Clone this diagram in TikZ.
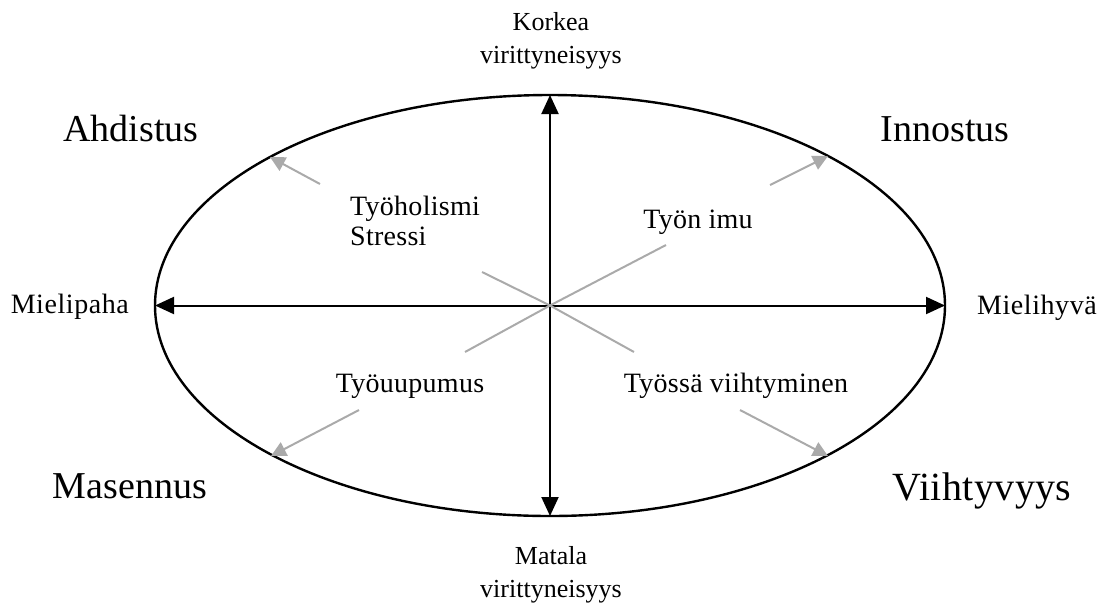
\documentclass[tikz,border=0pt]{standalone}
\usepackage{fontspec}
\setmainfont{Liberation Serif}
\usetikzlibrary{arrows.meta}
\definecolor{arrgray}{RGB}{170,170,170}
\tikzset{
  axisline/.style={line width=2pt, black, {Triangle[length=19pt,width=17pt]}-{Triangle[length=19pt,width=17pt]}},
  grayline/.style={line width=2pt, arrgray},
  grayarrow/.style={line width=2pt, arrgray, -{Triangle[length=15pt,width=15pt]}},
  vertlabel/.style={inner sep=0pt, font=\fontsize{26}{33}\selectfont, align=center},
  sidelabel/.style={inner sep=0pt, font=\fontsize{28}{33}\selectfont\addfontfeatures{LetterSpace=2}},
  midlabel/.style={inner sep=0pt, font=\fontsize{28}{30}\selectfont\addfontfeatures{LetterSpace=1}, align=left},
  cornerlabel/.style={inner sep=0pt, font=\fontsize{38}{40}\selectfont},
}
\begin{document}
\begin{tikzpicture}[x=1pt,y=-1pt]
\useasboundingbox (0,0) rectangle (1108,606);
\coordinate (c) at (550,305.5);
\draw[line width=2.4pt] (c) ellipse [x radius=395pt, y radius=210.5pt];
\coordinate (top) at (550,95);
\coordinate (bot) at (550,516);
\coordinate (lft) at (155,305.5);
\coordinate (rgt) at (945,305.5);
\draw[axisline] (bot) -- (top);
\draw[axisline] (lft) -- (rgt);
% gray inner segments
\coordinate (ulin) at (482,272);
\coordinate (urin) at (666,245);
\coordinate (llin) at (465,352);
\coordinate (lrin) at (634,352);
\draw[grayline] (ulin) -- (c);
\draw[grayline] (c) -- (urin);
\draw[grayline] (c) -- (llin);
\draw[grayline] (c) -- (lrin);
% gray outer arrows
\coordinate (ulst) at (320,184);
\coordinate (ultp) at (270,157);
\coordinate (urst) at (770,185);
\coordinate (urtp) at (828,156);
\coordinate (llst) at (359,410);
\coordinate (lltp) at (271,456);
\coordinate (lrst) at (740,410);
\coordinate (lrtp) at (828,456);
\draw[grayarrow] (ulst) -- (ultp);
\draw[grayarrow] (urst) -- (urtp);
\draw[grayarrow] (llst) -- (lltp);
\draw[grayarrow] (lrst) -- (lrtp);
% axis labels (base anchor = baseline of last line)
\node[vertlabel, anchor=base] (korkea) at (551,63) {Korkea\\virittyneisyys};
\node[vertlabel, anchor=base] (matala) at (551,597) {Matala\\virittyneisyys};
\node[sidelabel, anchor=base east] (mielipaha) at (129,313) {Mielipaha};
\node[sidelabel, anchor=base west] (mielihyva) at (977,314) {Mielihyvä};
% middle labels
\node[midlabel, anchor=base west] (tyoholismi) at (350,245) {Työholismi\\Stressi};
\node[midlabel, anchor=base] (tyonimu) at (698,228) {Työn imu};
\node[midlabel, anchor=base] (tyouupumus) at (410,392) {Työuupumus};
\node[midlabel, anchor=base] (viihtyminen) at (736,392) {Työssä viihtyminen};
% corner labels
\node[cornerlabel, anchor=base] (ahdistus) at (131,141) {Ahdistus};
\node[cornerlabel, anchor=base] (innostus) at (945,141) {Innostus};
\node[cornerlabel, anchor=base] (masennus) at (130,498) {Masennus};
\node[cornerlabel, anchor=base, font=\fontsize{40}{42}\selectfont\addfontfeatures{LetterSpace=1}] (viihtyvyys) at (982,500) {Viihtyvyys};
\end{tikzpicture}
\end{document}
